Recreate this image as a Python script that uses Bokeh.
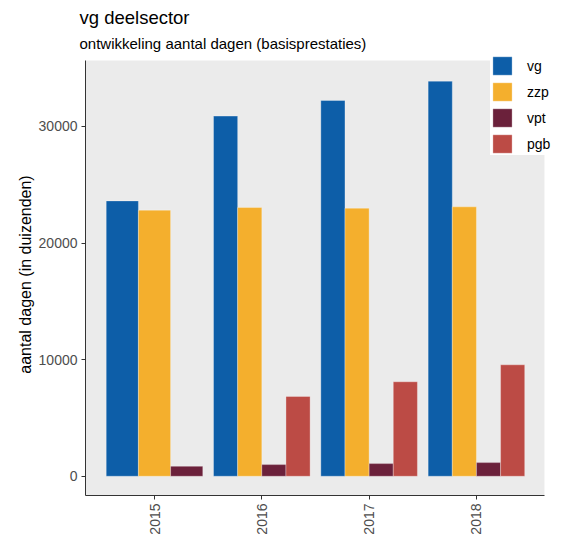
import math
from bokeh.plotting import figure
from bokeh.models import Range1d, FixedTicker, Legend, LegendItem, Title, ColumnDataSource, BoxAnnotation
from bokeh.embed import file_html
from bokeh.resources import INLINE

# ---- data ----
years = ["2015", "2016", "2017", "2018"]
series = ["vg", "zzp", "vpt", "pgb"]
vg = [23610, 30880, 32220, 33875]
zzp = [22815, 23040, 22985, 23100]
vpt = [855, 1000, 1085, 1170]
pgb = [None, 6845, 8100, 9555]
colors = ["#0D5EA8", "#F4AF2D", "#6B213B", "#BC4B45"]
y_ticks = [0, 10000, 20000, 30000]

values = {"vg": vg, "zzp": zzp, "vpt": vpt, "pgb": pgb}

FONT = "Liberation Sans"

# panel limits (grey area); the frame is a bit larger so the legend is not clipped
X_LO, X_HI = 0.357, 4.634
Y_LO, Y_HI = -1650, 35650

p = figure(width=562, height=537, title=None, output_backend="svg", toolbar_location=None,
           x_range=Range1d(X_LO, 4.802), y_range=Range1d(Y_LO, 36249),
           min_border_left=85, min_border_right=0, min_border_bottom=42, min_border_top=0)

p.background_fill_color = "white"
p.border_fill_color = "white"
p.outline_line_color = None
p.add_layout(BoxAnnotation(right=X_HI, top=Y_HI, fill_color="#EBEBEB", fill_alpha=1.0,
                           line_color=None, level="underlay"))

# dodge positions (ggplot position_dodge, width 0.9 per year)
sources = {s: dict(x=[], top=[], w=[]) for s in series}
for i, yr in enumerate(years):
    present = [s for s in series if values[s][i] is not None]
    n = len(present)
    w = 0.9 / n
    for k, s in enumerate(present):
        sources[s]["x"].append(i + 1 + (k - (n - 1) / 2) * w)
        sources[s]["top"].append(values[s][i])
        sources[s]["w"].append(w)

renderers = []
for s, c in zip(series, colors):
    r = p.vbar(x="x", top="top", width="w", bottom=0, source=ColumnDataSource(sources[s]),
               fill_color=c, line_color="white", line_alpha=0.3, line_width=1)
    renderers.append(r)

legend = Legend(items=[LegendItem(label=s, renderers=[r]) for s, r in zip(series, renderers)],
                location=(405, 340), glyph_width=24, glyph_height=23, spacing=3,
                padding=8, margin=0, label_standoff=13, label_width=30,
                label_text_font=FONT, label_text_font_size="14px", label_text_color="black",
                background_fill_color="white", background_fill_alpha=1.0, border_line_color=None)
p.add_layout(legend, "center")

# titles
sub = Title(text="ontwikkeling aantal dagen (basisprestaties)", align="left", offset=-6,
            text_font=FONT, text_font_size="15px", text_font_style="normal", text_color="black",
            standoff=3)
main = Title(text="vg deelsector", align="left", offset=-6,
             text_font=FONT, text_font_size="18.5px", text_font_style="normal", text_color="black",
             standoff=8)
p.add_layout(sub, "above")
p.add_layout(main, "above")

# styling
p.xgrid.grid_line_color = None
p.ygrid.grid_line_color = None

for ax in (p.xaxis, p.yaxis):
    ax.axis_line_color = "#333333"
    ax.axis_line_width = 1
    ax.major_tick_line_color = "#333333"
    ax.major_tick_out = 4
    ax.major_tick_in = 0
    ax.minor_tick_line_color = None
    ax.major_label_text_font = FONT
    ax.major_label_text_font_size = "14px"
    ax.major_label_text_color = "#4D4D4D"
    ax.major_label_standoff = 4

p.xaxis.bounds = (X_LO, X_HI)
p.yaxis.bounds = (Y_LO, Y_HI)

p.xaxis.ticker = FixedTicker(ticks=[1, 2, 3, 4])
p.xaxis.major_label_overrides = {i + 1: yr for i, yr in enumerate(years)}
p.xaxis.major_label_orientation = math.pi / 2

p.yaxis.ticker = FixedTicker(ticks=y_ticks)
p.yaxis.axis_label = "aantal dagen (in duizenden)"
p.yaxis.axis_label_text_font = FONT
p.yaxis.axis_label_text_font_size = "16px"
p.yaxis.axis_label_text_font_style = "normal"
p.yaxis.axis_label_text_color = "black"
p.yaxis.axis_label_standoff = 2

open("out.html", "w").write(file_html(p, INLINE))
